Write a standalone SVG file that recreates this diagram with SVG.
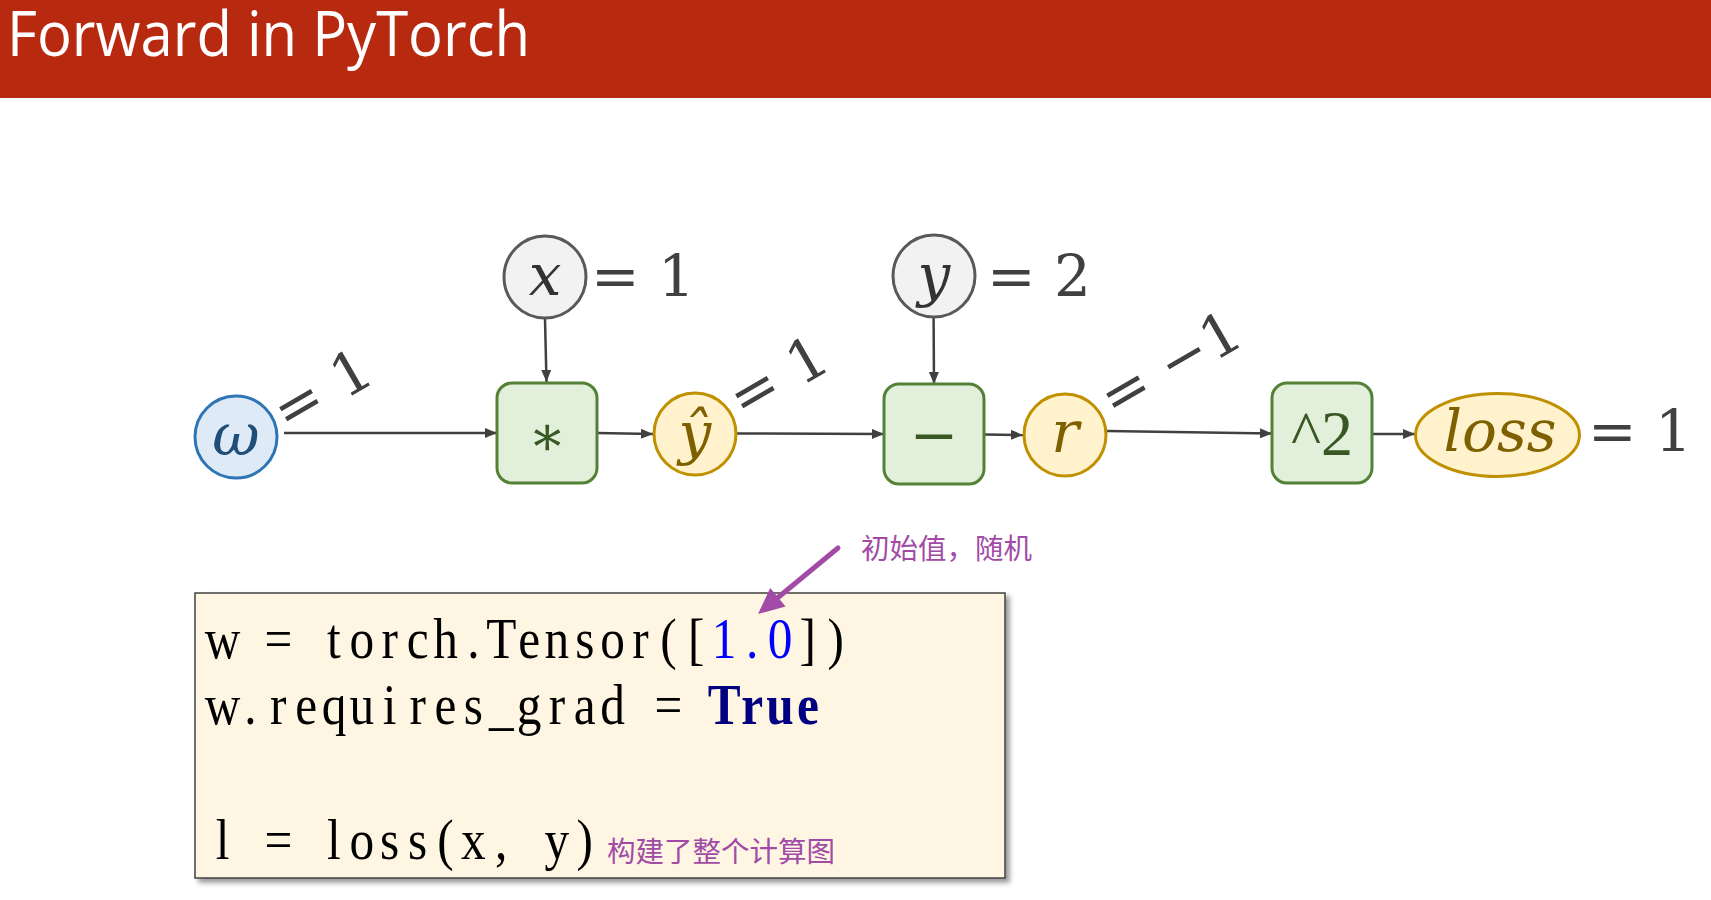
<svg xmlns="http://www.w3.org/2000/svg" width="1711" height="900" viewBox="0 0 1711 900">
<style>
.math{font-family:"DejaVu Serif",serif;font-style:italic;font-size:58px;text-anchor:middle}
.val{font-family:"DejaVu Serif",serif;font-size:58px;fill:#404040}
.conn{stroke:#404040;stroke-width:2.5;fill:none;marker-end:url(#arr)}
.blue{fill:#DEEBF7;stroke:#2E75B6;stroke-width:3}
.gray{fill:#F2F2F2;stroke:#595959;stroke-width:3}
.green{fill:#E2EFDA;stroke:#538135;stroke-width:3}
.yellow{fill:#FFF2CC;stroke:#BF9000;stroke-width:3}
.op{font-family:"DejaVu Serif",serif;fill:#385723;text-anchor:middle}
.code{font-family:"Liberation Serif",serif;font-size:58px;fill:#000;text-anchor:middle}
.cn{font-family:"Noto Sans CJK SC",sans-serif;font-size:28.5px;fill:#A24BA6}
</style>
<defs>
<marker id="arr" viewBox="0 0 12 10" markerUnits="userSpaceOnUse" markerWidth="12" markerHeight="10" refX="12" refY="5" orient="auto">
<path d="M0,0 L12,5 L0,10 z" fill="#404040"/>
</marker>
<filter id="shadow" x="-5%" y="-5%" width="115%" height="120%">
<feDropShadow dx="4" dy="4" stdDeviation="2.5" flood-color="#000" flood-opacity="0.4"/>
</filter>
</defs>

<g id="header">
<rect x="0" y="0" width="1711" height="98" fill="#B72A10"/>
<text x="7" y="56" font-family="Open Sans, sans-serif" font-size="62" fill="#fff" textLength="523" lengthAdjust="spacingAndGlyphs">Forward in PyTorch</text>
</g>

<g id="connectors">
<path class="conn" d="M284 433 L497 433"/>
<path class="conn" d="M545 319 L546.5 382"/>
<path class="conn" d="M597 433 L653 434"/>
<path class="conn" d="M737 433.5 L884 434"/>
<path class="conn" d="M933.6 318 L934 384"/>
<path class="conn" d="M984 434.5 L1023 435"/>
<path class="conn" d="M1107 431 L1272 433.5"/>
<path class="conn" d="M1373 434 L1415 434"/>
</g>

<g id="node-w">
<circle class="blue" cx="236" cy="437" r="41"/>
<text class="math" x="236" y="455" fill="#1F4E79">ω</text>
<text class="val" transform="translate(287 433) rotate(-30)">= 1</text>
</g>

<g id="node-x">
<circle class="gray" cx="545" cy="277" r="41"/>
<text class="math" x="545" y="295" fill="#333">x</text>
<text class="val" x="591" y="296">= 1</text>
</g>

<g id="node-mul">
<rect class="green" x="497" y="383" width="100" height="100" rx="15"/>
<text class="op" x="547" y="455" font-size="56">∗</text>
</g>

<g id="node-yhat">
<circle class="yellow" cx="695" cy="434" r="41"/>
<text class="math" x="695" y="453" fill="#7F6000">ŷ</text>
<text class="val" transform="translate(743 420) rotate(-30)">= 1</text>
</g>

<g id="node-y">
<circle class="gray" cx="934" cy="276" r="41"/>
<text class="math" x="934" y="295" fill="#333">y</text>
<text class="val" x="987" y="296">= 2</text>
</g>

<g id="node-sub">
<rect class="green" x="884" y="384" width="100" height="100" rx="15"/>
<text class="op" x="934" y="455" font-size="58">−</text>
</g>

<g id="node-r">
<circle class="yellow" cx="1065" cy="435" r="41"/>
<text class="math" x="1065" y="452" fill="#7F6000">r</text>
<text class="val" transform="translate(1114 419.5) rotate(-30)">= −1</text>
</g>

<g id="node-sq">
<rect class="green" x="1272" y="383" width="100" height="100" rx="15"/>
<text class="op" x="1322" y="455" font-size="64" style="font-family:'Liberation Serif',serif">^2</text>
</g>

<g id="node-loss">
<ellipse class="yellow" cx="1497.5" cy="435" rx="82" ry="41.5"/>
<text class="math" x="1500" y="451" fill="#7F6000">loss</text>
<text class="val" x="1588" y="451">= 1</text>
</g>

<g id="code">
<rect x="195" y="593" width="810" height="285" fill="#FEF6E3" stroke="#404040" stroke-width="1.5" filter="url(#shadow)"/>
<g transform="scale(0.85 1)">
<text class="code" y="658"><tspan x="261.8 294.6 327.4 360.1 392.9 425.7 458.5 491.3 524.1 556.9 589.7 622.5 655.2 688.0 720.8 753.6 786.4 819.2">w = torch.Tensor([</tspan><tspan fill="#0000FF" x="852.0 884.8 917.6">1.0</tspan><tspan x="950.4 983.1">])</tspan></text>
<text class="code" y="724"><tspan x="261.8 294.6 327.4 360.1 392.9 425.7 458.5 491.3 524.1 556.9 589.7 622.5 655.2 688.0 720.8 753.6 786.4 819.2">w.requires_grad = </tspan><tspan fill="#000080" font-weight="bold" x="852.0 884.8 917.6 950.4">True</tspan></text>
<text class="code" y="859"><tspan x="261.8 294.6 327.4 360.1 392.9 425.7 458.5 491.3 524.1 556.9 589.7 622.5 655.2 688.0">l = loss(x, y)</tspan></text>
</g>
<text class="cn" x="607" y="862">构建了整个计算图</text>
</g>

<g id="annotation">
<text class="cn" x="861" y="559">初始值，随机</text>
<line x1="838" y1="548" x2="778" y2="597.5" stroke="#A24BA6" stroke-width="5" stroke-linecap="round"/>
<polygon points="758,614 785.6,606.5 770.2,588.1" fill="#A24BA6"/>
</g>
</svg>
